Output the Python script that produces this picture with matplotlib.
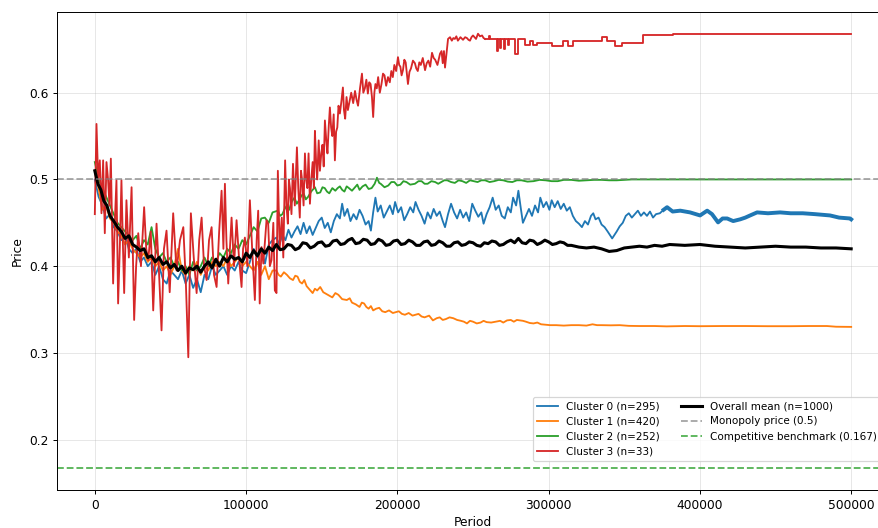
import numpy as np
import matplotlib
matplotlib.use("Agg")
import matplotlib.pyplot as plt

labels = ["Cluster 0 (n=295)", "Cluster 1 (n=420)", "Cluster 2 (n=252)", "Cluster 3 (n=33)"]
colors = ["#1f77b4", "#ff7f0e", "#2ca02c", "#d62728"]
monopoly_price = 0.5
competitive_price = 0.167

# (period, price) pairs
cluster0 = [
    (0, .50), (2500, .48), (5000, .47), (7500, .455), (10000, .46), (12500, .445), (15000, .44),
    (17500, .43), (20000, .435), (22500, .42), (25000, .415), (27500, .42), (30000, .405),
    (32500, .41), (35000, .40), (37500, .405), (40000, .39), (42500, .40), (45000, .385),
    (47500, .38), (50000, .395), (52500, .39), (55000, .385), (57500, .395), (60000, .38),
    (62500, .39), (65000, .375), (67500, .385), (70000, .37), (72500, .39), (75000, .385),
    (77500, .40), (80000, .39), (82500, .395), (85000, .40), (87500, .39), (90000, .40),
    (92500, .395), (95000, .405), (97500, .395), (100000, .392), (102500, .405), (105000, .42),
    (107500, .41), (110000, .42), (112500, .403), (115000, .425), (117500, .43),
    (120000, .433), (122000, .425), (124000, .436), (126000, .43), (128000, .442), (130000, .433),
    (132000, .44), (134000, .446), (136000, .437), (138000, .45), (140000, .438), (142000, .446),
    (144000, .436), (146000, .444), (148000, .452), (150000, .456), (152000, .444), (154000, .45),
    (156000, .439), (158000, .452), (160000, .46), (162000, .455), (163500, .472), (165000, .458),
    (167000, .466), (169000, .452), (171000, .46), (173000, .454), (175000, .465), (177000, .458),
    (179000, .448), (181000, .452), (182500, .441), (184000, .462), (185500, .479), (187000, .463),
    (189000, .47), (191000, .456), (193000, .463), (195000, .47), (197000, .46), (198500, .474),
    (200500, .462), (202500, .468), (204500, .453), (206500, .46), (208500, .468), (210500, .462),
    (212000, .474), (214000, .465), (216000, .458), (218000, .449), (220000, .462), (222000, .455),
    (224000, .466), (226000, .458), (228000, .463), (230000, .452), (231500, .445), (233500, .46),
    (235500, .472), (237500, .462), (239500, .455), (241500, .465), (243500, .456), (245500, .462),
    (247500, .452), (249500, .472), (251500, .464), (253500, .457), (255500, .462), (257000, .449),
    (259000, .46), (261000, .468), (263000, .479), (265000, .465), (267000, .47), (269000, .458),
    (271000, .455), (273000, .468), (275000, .462), (276500, .479), (278500, .47), (280000, .487),
    (281500, .468), (283000, .45), (285000, .458), (287000, .466), (289000, .458), (291000, .47),
    (293000, .462), (294500, .479), (296500, .468), (298500, .474), (300500, .465), (302000, .476),
    (304000, .468), (306000, .475), (308000, .466), (310000, .472), (312000, .464), (314000, .468),
    (316000, .458), (318000, .452), (320000, .449), (322000, .445), (324000, .452), (326000, .448),
    (328000, .458), (329500, .461), (331000, .454), (333000, .456), (335000, .448), (337000, .445),
    (339000, .44), (340500, .436), (342000, .432), (343500, .436), (345000, .44), (347000, .446),
    (349000, .45), (351000, .458), (353000, .461), (355000, .456), (357000, .46), (359000, .464),
    (361000, .458), (363000, .462), (365000, .458), (367000, .463), (369000, .456), (371000, .46),
    (373500, .461), (376000, .465), (378300, .468), (382000, .463), (387000, .464), (393500, .462),
    (400100, .4585), (404800, .464), (408000, .46), (412000, .4505), (415000, .455), (418000, .455),
    (422000, .452), (426600, .454), (430000, .456), (433200, .4585), (437800, .462), (445000, .461),
    (453000, .462), (460000, .461), (468000, .461), (476000, .46), (486000, .4585), (492000, .456),
    (499300, .455), (500000, .454),
]

cluster1 = [
    (0, .51), (2500, .49), (5000, .465), (7500, .47), (10000, .455), (12500, .45), (15000, .44),
    (17500, .435), (20000, .425), (22500, .43), (25000, .42), (27500, .415), (30000, .41),
    (32500, .415), (35000, .405), (37500, .41), (40000, .40), (42500, .405), (45000, .395),
    (47500, .40), (50000, .39), (52500, .40), (55000, .42), (57500, .395), (60000, .39),
    (62500, .40), (65000, .395), (67500, .405), (70000, .39), (72500, .40), (75000, .395),
    (77500, .405), (80000, .40), (82500, .405), (85000, .40), (87500, .41), (90000, .40),
    (92500, .405), (95000, .41), (97500, .40), (100000, .405), (102500, .40), (105000, .395),
    (107500, .405), (110000, .39), (112500, .40), (115000, .385), (117500, .395), (120000, .395),
    (121500, .39), (123000, .388), (125000, .393), (127000, .39), (129000, .386), (131000, .384),
    (132500, .389), (134000, .388), (135500, .382), (137000, .38), (138500, .384), (140000, .377),
    (142000, .373), (144000, .369), (145500, .374), (147000, .372), (149000, .376), (151000, .37),
    (153000, .368), (155000, .366), (157000, .364), (159000, .369), (161000, .367), (163500, .362),
    (166600, .361), (168500, .363), (170000, .358), (172500, .356), (175000, .353), (176500, .358),
    (178000, .357), (179500, .353), (181000, .351), (182500, .354), (184000, .349), (186000, .351),
    (188000, .352), (190000, .348), (192000, .347), (194500, .349), (197000, .346), (199000, .347),
    (201000, .348), (203000, .345), (205000, .344), (207500, .346), (210000, .343), (212000, .344),
    (214000, .345), (216000, .342), (218000, .341), (221000, .343), (223500, .3375), (226000, .34),
    (228000, .341), (230000, .338), (232000, .339), (234500, .341), (237000, .34), (239500, .338),
    (242000, .337), (244000, .336), (246000, .334), (248000, .337), (250000, .336), (252500, .334),
    (255000, .335), (257000, .337), (259000, .3355), (262000, .335), (265000, .336), (268000, .337),
    (270000, .335), (272500, .3375), (275000, .338), (277000, .336), (279000, .338), (281000, .3375),
    (283000, .337), (285000, .336), (287500, .3345), (290000, .334), (292500, .335), (295000, .333),
    (298000, .3325), (301000, .332), (305000, .332), (310000, .3315), (315000, .332), (320000, .332),
    (325000, .3315), (329000, .333), (332000, .332), (335000, .332), (341000, .3318), (347000, .332),
    (353000, .3312), (360000, .331), (370000, .331), (378000, .3306), (390000, .331), (400000, .3308),
    (415000, .331), (430000, .331), (445000, .3308), (460000, .3308), (472000, .331), (484000, .331),
    (490000, .3302), (500000, .330),
]

cluster2 = [
    (0, .52), (2500, .50), (5000, .49), (7500, .48), (10000, .47), (12500, .46), (15000, .45),
    (17500, .445), (20000, .44), (22500, .435), (25000, .43), (27500, .435), (30000, .42),
    (32500, .43), (35000, .425), (37500, .445), (40000, .42), (42500, .41), (45000, .415),
    (47500, .405), (50000, .41), (52500, .40), (55000, .405), (57500, .395), (60000, .40),
    (62500, .39), (65000, .405), (67500, .395), (70000, .40), (72500, .41), (75000, .40),
    (77500, .41), (80000, .405), (82500, .415), (85000, .41), (87500, .42), (90000, .415),
    (92500, .425), (95000, .42), (97500, .43), (100000, .425), (102500, .435), (105000, .445),
    (107500, .44), (110000, .455), (112400, .456), (115000, .45), (117500, .462), (121000, .464),
    (122500, .458), (124000, .46), (125500, .466), (127000, .47), (128500, .465), (130000, .474),
    (132000, .479), (133500, .472), (135000, .476), (136500, .481), (138000, .484), (139500, .477),
    (141000, .48), (143000, .486), (145500, .491), (147000, .484), (149000, .485), (150500, .491),
    (152000, .49), (153500, .486), (155000, .484), (157000, .49), (159000, .487), (160500, .49),
    (162000, .492), (163500, .488), (165000, .486), (166500, .492), (168000, .49), (170000, .487),
    (172000, .491), (173500, .494), (175000, .488), (177000, .492), (179000, .494), (181000, .489),
    (183000, .49), (185000, .495), (186500, .502), (188000, .496), (189000, .495), (191500, .491),
    (194000, .493), (196000, .497), (198000, .497), (200000, .493), (202000, .494), (204000, .498),
    (206000, .497), (208500, .494), (211600, .495), (214000, .498), (216000, .498), (218000, .495),
    (220000, .495), (222500, .498), (225000, .497), (227000, .495), (229000, .497), (231000, .499),
    (233000, .499), (235500, .497), (238000, .496), (240500, .499), (243000, .498), (245500, .496),
    (248000, .499), (250500, .498), (253000, .497), (255500, .499), (258000, .499), (261000, .497),
    (264000, .498), (267000, .4995), (270000, .499), (273000, .4975), (276000, .497), (279000, .499),
    (282000, .499), (286000, .4975), (290000, .498), (294000, .4995), (298000, .499), (302000, .498),
    (306000, .498), (310000, .4995), (315000, .4995), (320000, .4985), (325000, .499), (330000, .4995),
    (335000, .4995), (340000, .499), (345000, .499), (350000, .4995), (355000, .5),
    (400000, .5), (450000, .5), (500000, .5),
]

cluster3_early = [
    (0, .46), (1100, .564), (2200, .50), (3300, .522), (4400, .461), (5500, .522), (6600, .438),
    (7700, .52), (8800, .499), (9700, .47), (10600, .524), (12100, .38), (13200, .45), (14300, .499),
    (15400, .357), (16500, .42), (17600, .499), (18500, .43), (19400, .369), (20900, .476),
    (22500, .41), (24300, .491), (26000, .338), (27300, .40), (28700, .438), (30500, .40),
    (32600, .468), (34000, .42), (35300, .407), (37000, .44), (38600, .349), (40800, .449),
    (42500, .39), (44100, .326), (45700, .42), (47400, .441), (49500, .37), (51800, .461),
    (54000, .395), (56300, .43), (58500, .445), (60200, .38), (61800, .295), (63500, .461),
    (65400, .41), (67300, .369), (69000, .43), (70600, .456), (72200, .40), (73900, .384),
    (75500, .43), (77200, .445), (78800, .39), (80500, .376), (82200, .44), (83800, .487),
    (85000, .42), (86000, .495), (87000, .43), (88200, .38), (89300, .42), (90400, .456),
    (92000, .40), (93700, .453), (95300, .41), (97000, .376), (98000, .42), (99200, .433),
    (100800, .40), (102500, .476), (104000, .42), (105800, .361), (107000, .43), (108000, .464),
    (109000, .357), (110200, .422), (111400, .403), (113500, .453), (114600, .449), (115700, .40),
    (116800, .407), (118000, .45), (119000, .372), (120100, .369), (121000, .51), (122200, .42),
    (123600, .456), (124600, .41), (125800, .522), (126700, .47), (127600, .449), (128300, .50),
    (129000, .49), (130000, .46), (131000, .518), (132200, .47), (133600, .537), (134500, .49),
    (135500, .456), (136300, .51), (137000, .50), (138000, .47), (138900, .53), (139700, .50),
    (140500, .49), (141300, .53), (142200, .472), (143100, .50), (144000, .52), (144800, .49),
    (145500, .556), (146300, .52), (147000, .50), (148000, .545), (148800, .51), (149700, .53),
    (150500, .54), (151300, .515), (152100, .568), (153000, .545), (153800, .53), (154600, .56),
    (155400, .583), (156200, .56), (157000, .55), (157900, .575), (158700, .522), (159500, .555),
    (160300, .56), (161100, .585), (162000, .576), (163000, .59), (164000, .606), (164700, .58),
    (165500, .57), (166400, .595), (167300, .58), (168400, .59), (169500, .60), (170800, .588),
    (172000, .602), (173000, .592), (174000, .585), (175300, .605), (176600, .622), (177500, .60),
    (178500, .605), (179500, .615), (180500, .599), (181400, .612), (182300, .61), (183200, .595),
    (184000, .572), (184800, .60), (185500, .61), (186400, .605), (187300, .618), (188400, .60),
    (189500, .61), (190500, .622), (191500, .62), (192600, .608), (193800, .618), (195000, .612),
    (196000, .625), (197000, .618), (198000, .632), (199200, .625), (200400, .641), (201200, .632),
    (202000, .63), (202800, .62), (203700, .626), (204600, .638), (205500, .635), (206300, .622),
    (207000, .61), (208000, .624), (209000, .628), (210300, .637), (211600, .634), (212500, .628),
    (213500, .625), (214500, .635), (215500, .632), (216800, .64), (218300, .626), (219400, .634),
    (220500, .637), (221700, .63), (222900, .646), (224000, .64), (225000, .638), (226500, .632),
    (228200, .645), (229200, .648), (230000, .634), (230800, .648), (231500, .629), (232500, .645),
    (233500, .662), (234800, .664), (236000, .66), (237000, .663), (238000, .662), (239000, .665),
    (240000, .66), (241700, .664), (243400, .661), (244800, .664), (246000, .663), (247000, .661),
    (248000, .66), (249000, .664), (250000, .666), (251000, .664), (252000, .662), (253300, .668),
    (254600, .665), (256000, .666), (257000, .663), (258000, .662),
]

# later part of cluster 3 changes in steps: (period of change, new level)
cluster3_steps = [
    (258000, .662), (260500, .665), (261500, .662), (265900, .648), (266500, .662), (268000, .652),
    (268700, .662), (270500, .65), (271200, .662), (273000, .655), (274000, .662), (277800, .645),
    (279800, .662), (284400, .655), (287700, .66), (289700, .655), (292300, .657), (302200, .654),
    (309500, .66), (312800, .654), (316100, .66), (335300, .664), (338600, .66), (343900, .654),
    (348500, .657), (362400, .666), (382300, .668), (500000, .668),
]

overall = [
    (0, .51), (2000, .495), (4000, .488), (6000, .475), (8000, .47), (10000, .458), (12500, .452),
    (15000, .445), (17500, .44), (20000, .432), (22500, .435), (25000, .425), (27500, .422),
    (30000, .418), (32500, .42), (35000, .41), (37500, .412), (40000, .405), (42500, .41),
    (45000, .402), (47500, .405), (50000, .398), (52500, .402), (55000, .395), (57500, .40),
    (60000, .392), (62500, .398), (65000, .396), (67500, .40), (70000, .393), (72500, .40),
    (75000, .405), (77500, .398), (80000, .408), (82500, .40), (85000, .41), (87500, .405),
    (90000, .412), (92500, .408), (95000, .41), (97500, .405), (100000, .415), (102500, .41),
    (105000, .418), (107500, .412), (110000, .42), (112500, .415), (115000, .422), (117500, .418),
    (120000, .425), (122500, .419), (125000, .42), (127500, .425), (130000, .424), (132500, .419),
    (135000, .421), (137500, .427), (140000, .426), (142500, .421), (145000, .423), (147500, .427),
    (150000, .428), (152500, .423), (155000, .424), (157500, .429), (160000, .43), (162500, .425),
    (165000, .426), (167500, .43), (170000, .432), (172500, .426), (175000, .427), (177500, .431),
    (180000, .43), (182500, .425), (185000, .426), (187500, .431), (190000, .429), (192500, .424),
    (195000, .425), (197500, .429), (200000, .43), (202500, .425), (205000, .426), (207500, .43),
    (210000, .428), (212500, .424), (215000, .424), (217500, .428), (220000, .429), (222500, .424),
    (225000, .425), (227500, .429), (230000, .427), (232500, .423), (235000, .423), (237500, .427),
    (240000, .428), (242500, .424), (245000, .425), (247500, .428), (250000, .427), (252500, .424),
    (255000, .423), (257500, .427), (260000, .426), (262500, .429), (265000, .428), (267500, .424),
    (270000, .425), (272500, .428), (275000, .43), (277500, .427), (280000, .432), (282500, .427),
    (285000, .426), (287500, .43), (290000, .429), (292500, .425), (295000, .427), (297500, .43),
    (300000, .428), (302500, .425), (305000, .426), (307500, .428), (310000, .427), (312500, .424),
    (315000, .424), (320000, .422), (325000, .421), (330000, .422), (335000, .42), (340000, .417),
    (345000, .418), (350000, .421), (355000, .422), (360000, .423), (365000, .422), (370000, .424),
    (375000, .423), (380000, .425), (390000, .424), (400000, .425), (410000, .423), (420000, .422),
    (430000, .421), (440000, .422), (450000, .423), (460000, .422), (470000, .422), (480000, .421),
    (490000, .421), (500000, .420),
]


def unzip(pairs):
    a = np.array(pairs, dtype=float)
    return a[:, 0], a[:, 1]


DPI = 88
W, H = 878, 528
fig = plt.figure(figsize=(W / DPI, H / DPI), dpi=DPI)
ax = fig.add_axes([57 / W, 1 - 490 / H, (889 - 57) / W, (490 - 12) / H])

lw = 1.5
t, p = unzip(cluster0)
ax.plot(t, p, color=colors[0], lw=lw, label=labels[0])
mask = t >= 375000
ax.plot(t[mask], p[mask], color=colors[0], lw=3.2)
t, p = unzip(cluster1)
ax.plot(t, p, color=colors[1], lw=lw, label=labels[1])
t, p = unzip(cluster2)
ax.plot(t, p, color=colors[2], lw=lw, label=labels[2])
t, p = unzip(cluster3_early)
ax.plot(t, p, color=colors[3], lw=lw, label=labels[3])
t, p = unzip(cluster3_steps)
ax.plot(t, p, color=colors[3], lw=lw, drawstyle="steps-post")
t, p = unzip(overall)
ax.plot(t, p, color="black", lw=2.5, label="Overall mean (n=1000)")

ax.axhline(monopoly_price, color="gray", ls="--", alpha=0.7, label=f"Monopoly price ({monopoly_price})")
ax.axhline(competitive_price, color="tab:green", ls="--", alpha=0.8,
           label=f"Competitive benchmark ({competitive_price})")

ax.set_xlabel("Period")
ax.set_ylabel("Price")
ax.grid(True, alpha=0.3)
ax.legend(loc="lower left", ncol=2, fontsize=8.5, borderaxespad=0,
          bbox_to_anchor=(533 / W, 1 - 461 / H), bbox_transform=fig.transFigure)

fig.savefig("out.png", dpi=DPI)
